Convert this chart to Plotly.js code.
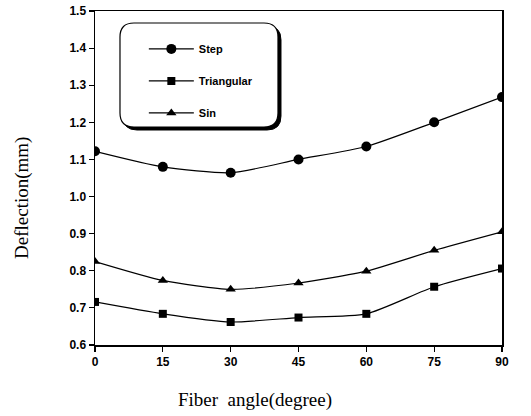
<!DOCTYPE html>
<html><head><meta charset="utf-8">
<script src="https://cdn.plot.ly/plotly-3.0.1.min.js"></script>
<style>body{margin:0;background:#fff}#c{width:531px;height:416px}</style>
</head><body><div id="c"></div>
<script>
const angles = [0, 15, 30, 45, 60, 75, 90];
const step = [1.122, 1.080, 1.064, 1.100, 1.135, 1.200, 1.268];
const triangular = [0.716, 0.684, 0.662, 0.674, 0.684, 0.757, 0.806];
const sinVals = [0.825, 0.774, 0.750, 0.767, 0.799, 0.855, 0.905];
const seriesNames = ['Step', 'Triangular', 'Sin'];
const xTicks = [0, 15, 30, 45, 60, 75, 90];
const yTicks = [0.6, 0.7, 0.8, 0.9, 1.0, 1.1, 1.2, 1.3, 1.4, 1.5];

const W = 407, H = 334;
function rr(x0, y0, x1, y1, r) {
  const px = v => (v / W).toFixed(4);
  const py = v => (1 - v / H).toFixed(4);
  return `M${px(x0+r)},${py(y0)} L${px(x1-r)},${py(y0)} Q${px(x1)},${py(y0)} ${px(x1)},${py(y0+r)} ` +
         `L${px(x1)},${py(y1-r)} Q${px(x1)},${py(y1)} ${px(x1-r)},${py(y1)} L${px(x0+r)},${py(y1)} ` +
         `Q${px(x0)},${py(y1)} ${px(x0)},${py(y1-r)} L${px(x0)},${py(y0+r)} Q${px(x0)},${py(y0)} ${px(x0+r)},${py(y0)} Z`;
}

const common = {mode: 'lines+markers', line: {color: '#000', width: 1.2, shape: 'spline', smoothing: 0.6}};
const traces = [
  Object.assign({}, common, {x: angles, y: step, name: seriesNames[0], legendgroup: 'a',
    marker: {symbol: 'circle', size: 10, color: '#000'}}),
  Object.assign({}, common, {x: angles, y: triangular, name: seriesNames[1], legendgroup: 'b',
    marker: {symbol: 'square', size: 8, color: '#000'}}),
  Object.assign({}, common, {x: angles, y: sinVals, name: seriesNames[2], legendgroup: 'c',
    marker: {symbol: 'triangle-up', size: 9, color: '#000'}})
];

const tickFont = {family: 'Liberation Sans, Arial, sans-serif', size: 12, color: '#000', weight: 'bold'};
const layout = {
  width: 531, height: 416,
  margin: {l: 95, r: 29, t: 11, b: 71},
  paper_bgcolor: '#fff', plot_bgcolor: '#fff',
  showlegend: true,
  legend: {x: 0.12, y: 0.93, xanchor: 'left', yanchor: 'top', bgcolor: 'rgba(0,0,0,0)',
    borderwidth: 0, tracegroupgap: 13, itemwidth: 45,
    font: {family: 'Liberation Sans, Arial, sans-serif', size: 11, color: '#000', weight: 'bold'}},
  xaxis: {range: [0, 90], tickvals: xTicks, ticktext: xTicks.map(String), ticks: 'outside', ticklen: 5,
    tickwidth: 1.2, tickcolor: '#000', showline: true, linecolor: '#000', linewidth: 1.5, mirror: true,
    showgrid: false, zeroline: false, tickfont: tickFont},
  yaxis: {range: [0.6, 1.5], tickvals: yTicks, ticktext: yTicks.map(v => v.toFixed(1)), ticks: 'outside', ticklen: 5,
    tickwidth: 1.2, tickcolor: '#000', showline: true, linecolor: '#000', linewidth: 1.5, mirror: true,
    showgrid: false, zeroline: false, tickfont: tickFont},
  shapes: [
    {type: 'path', xref: 'paper', yref: 'paper', path: rr(28, 15, 186, 119, 14), fillcolor: '#000', line: {color: '#000', width: 1}, layer: 'below'},
    {type: 'path', xref: 'paper', yref: 'paper', path: rr(25, 12, 183, 116, 14), fillcolor: '#fff', line: {color: '#000', width: 1.2}, layer: 'below'}
  ],
  annotations: [
    {text: 'Fiber  angle(degree)', xref: 'paper', yref: 'paper', x: (255 - 95) / W, y: (345 - 400) / H,
      xanchor: 'center', yanchor: 'middle', showarrow: false,
      font: {family: 'Liberation Serif, Times New Roman, serif', size: 19, color: '#000'}},
    {text: 'Deflection(mm)', xref: 'paper', yref: 'paper', x: (22 - 95) / W, y: (345 - 198) / H,
      xanchor: 'center', yanchor: 'middle', showarrow: false, textangle: -90,
      font: {family: 'Liberation Serif, Times New Roman, serif', size: 19, color: '#000'}}
  ]
};
Plotly.newPlot('c', traces, layout, {displayModeBar: false, staticPlot: true});
</script></body></html>
